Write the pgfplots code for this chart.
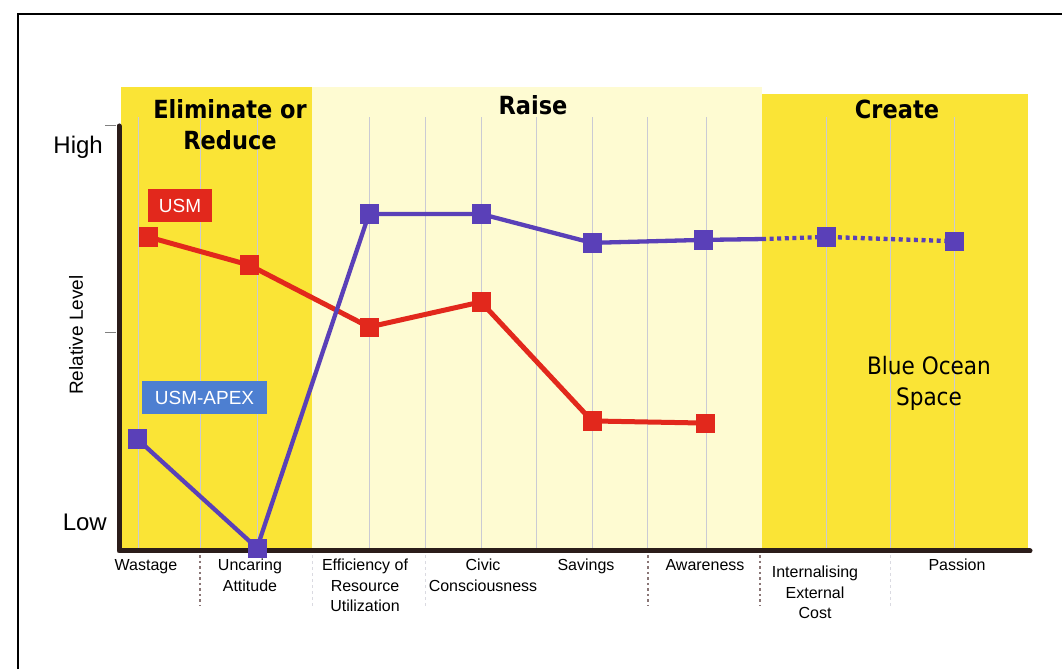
\documentclass[border=0pt]{standalone}
\usepackage{pgfplots}
\pgfplotsset{compat=1.18}
\usepackage{pgfplotstable}
\usepackage{fontspec}
\setmainfont{Liberation Sans}
\newfontfamily\cond{DejaVu Sans Condensed}
\definecolor{yel}{HTML}{FAE436}
\definecolor{lyel}{HTML}{FEFBD2}
\definecolor{usmred}{HTML}{E2281C}
\definecolor{apex}{HTML}{5A40B8}
\definecolor{apexbox}{HTML}{4D7FD1}
\definecolor{axdark}{HTML}{2B1D1A}
\definecolor{gridc}{HTML}{CACAD4}
\definecolor{sepdark}{HTML}{8A7676}

% USM (red)
\pgfplotstableread{
x y
148 7.39
249 6.73
369 5.27
481 5.86
592 3.06
705 3.01
}\usm

% USM-APEX (blue), existing attributes
\pgfplotstableread{
x y
137 2.64
257 0.07
369 7.93
481 7.93
592 7.25
703 7.32
}\apexsolid

% USM-APEX (blue), created attributes
\pgfplotstableread{
x y
826 7.39
954 7.29
}\apexcreate

\begin{document}
\begin{tikzpicture}
\useasboundingbox (0,0) rectangle (1062pt,669pt);
\draw[line width=1.8pt] (18pt,0) -- (18pt,655pt) -- (1062pt,655pt);
\begin{axis}[
  scale only axis, width=911pt, height=425pt,
  at={(119pt,118pt)}, anchor=south west,
  xmin=119, xmax=1030, ymin=0, ymax=10,
  clip=false,
  axis line style={draw=none},
  major tick length=0pt,
  ytick=\empty,
  xtick={146,250,365,483,586,705,815,957},
  xticklabels={Wastage, {Uncaring\\Attitude}, {Efficiency of\\Resource\\Utilization}, {Civic\\Consciousness}, Savings, Awareness, {\rule{0pt}{18.5pt}Internalising\\External\\Cost}, Passion},
  xticklabel style={align=center, anchor=north, inner sep=0pt, yshift=-8pt, font=\fontsize{16}{20.5}\selectfont},
]
% strategy regions
\fill[yel] (axis cs:121,0) rectangle (axis cs:312,10.92);
\fill[lyel] (axis cs:312,0) rectangle (axis cs:762,10.92);
\fill[yel] (axis cs:762,0) rectangle (axis cs:1028,10.75);
% vertical guide lines
\pgfplotsinvokeforeach{138,200,257,369,425,481,536,592,647,706,826,890,954}{
  \draw[gridc, line width=1pt] (axis cs:#1,0) -- (axis cs:#1,10.2);
}
% separators below the axis
\pgfplotsinvokeforeach{200,648,760}{
  \draw[sepdark, line width=1.6pt, dash pattern=on 2.5pt off 3pt] (axis cs:#1,-0.1) -- (axis cs:#1,-1.3);
}
\pgfplotsinvokeforeach{312,425,890}{
  \draw[gridc!70, line width=1pt, dash pattern=on 3pt off 3pt] (axis cs:#1,-0.1) -- (axis cs:#1,-1.3);
}
% axis lines
\draw[axdark, line width=5pt, line cap=round, line join=round] (axis cs:119,10) -- (axis cs:119,0) -- (axis cs:1030,0);
\draw[gray, line width=1pt] (axis cs:105,10) -- (axis cs:116,10);
\draw[gray, line width=1pt] (axis cs:105,5.15) -- (axis cs:116,5.15);
% y descriptors
\node[anchor=east, inner sep=0pt, font=\fontsize{24}{24}\selectfont] at (axis cs:103,9.51) {High};
\node[anchor=east, inner sep=0pt, font=\fontsize{24}{24}\selectfont] at (axis cs:107,0.68) {Low};
\node[rotate=90, inner sep=0pt, font=\fontsize{19}{19}\selectfont] at (axis cs:76,5.08) {Relative Level};
% headings
\node[align=center, inner sep=0pt, font=\cond\bfseries\fontsize{25}{31}\selectfont] at (axis cs:230,10.04) {Eliminate or\\Reduce};
\node[inner sep=0pt, font=\cond\bfseries\fontsize{25}{31}\selectfont] at (axis cs:533,10.49) {Raise};
\node[inner sep=0pt, font=\cond\bfseries\fontsize{25}{31}\selectfont] at (axis cs:897,10.38) {Create};
\node[align=center, inner sep=0pt, font=\cond\fontsize{24}{31}\selectfont] at (axis cs:929,3.94) {Blue Ocean\\Space};
% series labels
\node[fill=usmred, text=white, minimum width=64pt, minimum height=33pt, inner sep=0pt, font=\fontsize{19}{19}\selectfont] at (axis cs:180,8.13) {USM};
\node[fill=apexbox, text=white, minimum width=125pt, minimum height=33pt, inner sep=0pt, font=\fontsize{19}{19}\selectfont] at (axis cs:204.5,3.61) {USM-APEX};
% data
\addplot[usmred, line width=5pt, mark=square*, mark size=9.25pt, mark options={solid, line width=0.5pt}] table {\usm};
\addplot[apex, line width=4.3pt] coordinates {(703,7.32) (762,7.34)};
\addplot[apex, line width=4.3pt, dash pattern=on 4pt off 3.6pt] coordinates {(762,7.34) (826,7.39) (954,7.29)};
\addplot[apex, line width=4.3pt, mark=square*, mark size=9.25pt, mark options={solid, line width=0.5pt}] table {\apexsolid};
\addplot[apex, only marks, mark=square*, mark size=9.25pt, mark options={solid, line width=0.5pt}] table {\apexcreate};
\end{axis}
\end{tikzpicture}
\end{document}
